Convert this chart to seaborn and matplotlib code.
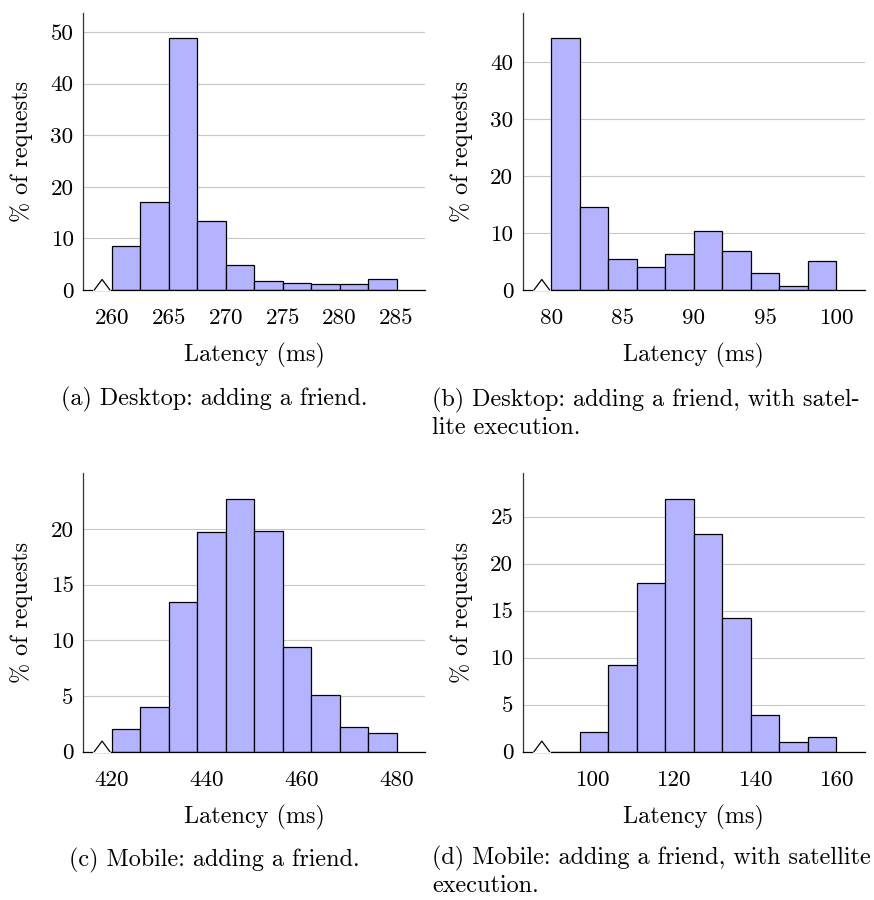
import matplotlib
matplotlib.use("Agg")
import matplotlib.pyplot as plt
import pandas as pd
import seaborn as sns

# bin edges (ms) and share of requests (%) per bin
desktop_edges = [260, 262.5, 265, 267.5, 270, 272.5, 275, 277.5, 280, 282.5, 285]
desktop_pct = [8.56, 17.05, 48.84, 13.32, 4.83, 1.80, 1.42, 1.09, 1.22, 2.06]

desktop_sat_edges = [80, 82, 84, 86, 88, 90, 92, 94, 96, 98, 100]
desktop_sat_pct = [44.19, 14.61, 5.36, 4.02, 6.35, 10.36, 6.75, 3.03, 0.64, 5.01]

mobile_edges = [420, 426, 432, 438, 444, 450, 456, 462, 468, 474, 480]
mobile_pct = [2.01, 4.01, 13.41, 19.76, 22.72, 19.85, 9.40, 5.12, 2.22, 1.71]

mobile_sat_edges = [90, 97, 104, 111, 118, 125, 132, 139, 146, 153, 160]
mobile_sat_pct = [0.0, 2.12, 9.21, 17.99, 26.91, 23.19, 14.20, 3.90, 0.99, 1.52]

xticks_a = [260, 265, 270, 275, 280, 285]
xticks_b = [80, 85, 90, 95, 100]
xticks_c = [420, 440, 460, 480]
xticks_d = [100, 120, 140, 160]

yticks_a = [0, 10, 20, 30, 40, 50]
yticks_b = [0, 10, 20, 30, 40]
yticks_c = [0, 5, 10, 15, 20]
yticks_d = [0, 5, 10, 15, 20, 25]

captions = [
    ["(a) Desktop: adding a friend."],
    ["(b) Desktop: adding a friend, with satel-", "lite execution."],
    ["(c) Mobile: adding a friend."],
    ["(d) Mobile: adding a friend, with satellite", "execution."],
]

sns.set_style("white")
plt.rcParams["font.family"] = ["cmr10", "DejaVu Serif"]
plt.rcParams["mathtext.fontset"] = "cm"
plt.rcParams["axes.formatter.use_mathtext"] = True
plt.rcParams["text.color"] = "black"
plt.rcParams["axes.labelcolor"] = "black"
FS = 17.4      # labels and captions
TFS = 16.6     # tick labels

fig = plt.figure(figsize=(8.74, 9.0), dpi=100)

W, H = 874, 900
boxes = [
    (83.3, 12.7, 425, 290),
    (523, 12.7, 864.7, 290),
    (83.3, 473.3, 425, 751.7),
    (523, 473.3, 864.7, 751.7),
]

panels = [
    (desktop_edges, desktop_pct, xticks_a, yticks_a),
    (desktop_sat_edges, desktop_sat_pct, xticks_b, yticks_b),
    (mobile_edges, mobile_pct, xticks_c, yticks_c),
    (mobile_sat_edges, mobile_sat_pct, xticks_d, yticks_d),
]

for (l, t, r, b), (edges, pct, xt, yt) in zip(boxes, panels):
    ax = fig.add_axes([l / W, 1 - b / H, (r - l) / W, (b - t) / H])
    centers = [(lo + hi) / 2 for lo, hi in zip(edges[:-1], edges[1:])]
    df = pd.DataFrame({"latency": centers, "pct": pct})
    sns.histplot(data=df, x="latency", weights="pct",
                 binwidth=edges[1] - edges[0], binrange=(edges[0], edges[-1]),
                 stat="count", color="#b3b3ff", alpha=1, edgecolor="black",
                 linewidth=0.9, ax=ax)

    span = edges[-1] - edges[0]
    ax.set_xlim(edges[0] - 0.1 * span, edges[-1] + 0.1 * span)
    ax.set_ylim(0, max(pct) * 1.1)
    ax.set_xticks(xt)
    ax.set_yticks(yt)
    ax.set_xticklabels([str(v) for v in xt], fontsize=TFS)
    ax.set_yticklabels([str(v) for v in yt], fontsize=TFS)

    ax.set_axisbelow(True)
    ax.yaxis.grid(True, color="#c8c8c8", linewidth=0.8)
    ax.xaxis.grid(False)

    for s in ["top", "right"]:
        ax.spines[s].set_visible(False)
    ax.spines["left"].set_color("#333333")
    ax.spines["left"].set_linewidth(0.9)
    ax.spines["bottom"].set_color("black")
    ax.spines["bottom"].set_linewidth(0.9)

    ax.tick_params(axis="y", direction="in", length=8, width=0.8,
                   color="#333333", labelcolor="black", pad=7)
    ax.tick_params(axis="x", direction="out", length=7, width=0.8,
                   color="#aaaaaa", labelcolor="black", pad=6.5)

    ax.set_xlabel("Latency (ms)", fontsize=FS)
    ax.set_ylabel("% of requests", fontsize=FS)
    ax.xaxis.set_label_coords(0.5, -0.235)
    ax.yaxis.set_label_coords(-0.18, 0.5)
    ax.xaxis.label.set_va("center")
    ax.yaxis.label.set_va("center")

    # axis break marker near the origin
    ax.plot([0.032, 0.078], [0, 0], color="white", linewidth=1.6,
            transform=ax.transAxes, clip_on=False, zorder=5)
    ax.plot([0.032, 0.055, 0.078], [0, 0.038, 0], color="black",
            linewidth=0.9, transform=ax.transAxes, clip_on=False, zorder=6)

# captions
fig.text(214 / W, 1 - 399 / H, captions[0][0], ha="center", va="center", fontsize=FS)
fig.text(214 / W, 1 - 860 / H, captions[2][0], ha="center", va="center", fontsize=FS)
fig.text(432 / W, 1 - 400 / H, captions[1][0], ha="left", va="center", fontsize=FS)
fig.text(432 / W, 1 - 428 / H, captions[1][1], ha="left", va="center", fontsize=FS)
fig.text(432 / W, 1 - 858 / H, captions[3][0], ha="left", va="center", fontsize=FS)
fig.text(432 / W, 1 - 886 / H, captions[3][1], ha="left", va="center", fontsize=FS)

fig.savefig("out.png", dpi=100)
